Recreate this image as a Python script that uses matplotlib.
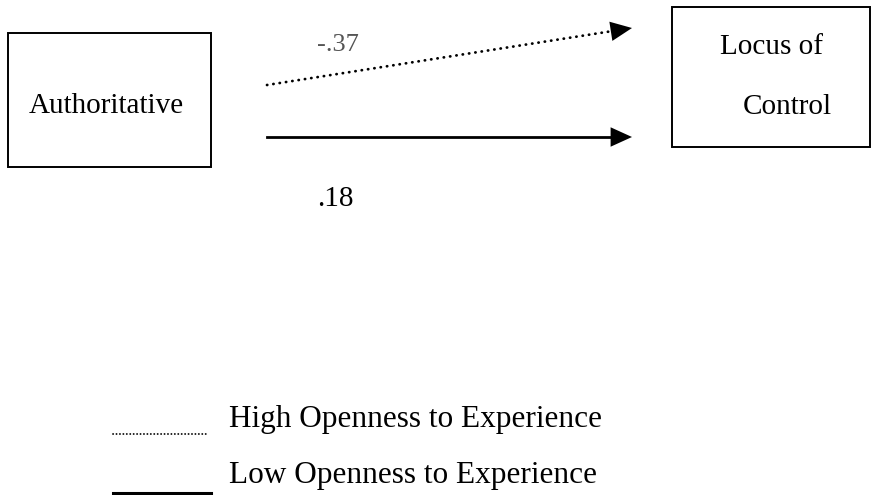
import matplotlib.pyplot as plt
from matplotlib.patches import Rectangle

# path diagram content
predictor = "Authoritative"
outcome = ["Locus of", "Control"]
coefs = ["-.37", ".18"]
groups = ["High Openness to Experience", "Low Openness to Experience"]
styles = ["dotted", "solid"]

# layout in pixels (figure is 873 x 495, y grows downward)
fig = plt.figure(figsize=(8.73, 4.95), dpi=100)
ax = fig.add_axes([0, 0, 1, 1])
ax.set_xlim(0, 873)
ax.set_ylim(495, 0)
ax.axis("off")

serif = "Liberation Serif"

# boxes
ax.add_patch(Rectangle((8, 33), 203, 134, fill=False, lw=1.4, ec="black"))
ax.add_patch(Rectangle((672, 7), 198, 140, fill=False, lw=1.4, ec="black"))
ax.text(106, 106, predictor, family=serif, fontsize=21, ha="center", va="center")
ax.text(772, 47, outcome[0], family=serif, fontsize=21, ha="center", va="center")
ax.text(787, 107, outcome[1], family=serif, fontsize=21, ha="center", va="center")

# arrows
paths = [((267, 85), (632, 28)), ((267, 137), (632, 137))]
for (start, tip), ls in zip(paths, styles):
    dx, dy = tip[0] - start[0], tip[1] - start[1]
    L = (dx ** 2 + dy ** 2) ** 0.5
    back = (tip[0] - dx / L * 14, tip[1] - dy / L * 14)
    if ls == "dotted":
        ax.plot([start[0], back[0]], [start[1], back[1]], color="black", lw=2.0,
                linestyle=(0, (0.1, 2.2)), dash_capstyle="round")
    else:
        ax.plot([start[0], back[0]], [start[1], back[1]], color="black", lw=2.0)
    ax.annotate("", xy=tip, xytext=(tip[0] - dx / L * 16, tip[1] - dy / L * 16),
                arrowprops=dict(arrowstyle="-|>,head_length=1.1,head_width=0.5",
                                mutation_scale=14, color="black", lw=0,
                                shrinkA=0, shrinkB=0))

ax.text(338, 45, coefs[0], family=serif, fontsize=19, color="#555555",
        ha="center", va="center")
ax.text(335, 199, coefs[1], family=serif, fontsize=21, ha="center", va="center")

# legend
leg_y = [434, 493]
txt_y = [420, 475]
for lab, ls, ly, ty in zip(groups, styles, leg_y, txt_y):
    if ls == "dotted":
        ax.plot([113, 209], [ly, ly], color="black", lw=1.3,
                linestyle=(0, (0.1, 1.8)), dash_capstyle="round")
    else:
        ax.plot([113, 211], [ly, ly], color="black", lw=2.2)
    ax.text(229, ty, lab, family=serif, fontsize=22.5, ha="left", va="center")

fig.savefig("out.png", dpi=100)
